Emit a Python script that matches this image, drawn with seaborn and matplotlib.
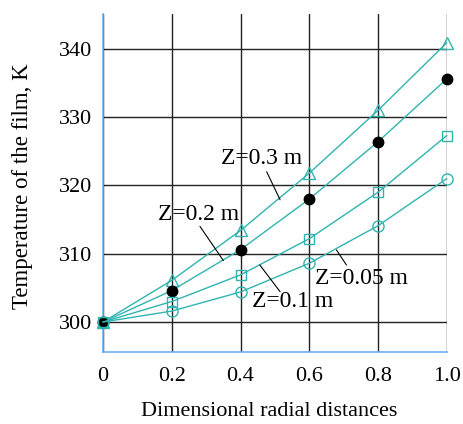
import matplotlib
matplotlib.use("Agg")
import matplotlib.pyplot as plt
import seaborn as sns
import pandas as pd

r = [0.0, 0.2, 0.4, 0.6, 0.8, 1.0]
t_z03 = [300.0, 306.1, 313.4, 321.8, 331.0, 340.9]
t_z02 = [300.0, 304.6, 310.6, 318.0, 326.4, 335.6]
t_z01 = [300.0, 303.0, 306.9, 312.2, 319.0, 327.3]
t_z005 = [300.0, 301.6, 304.4, 308.6, 314.1, 321.0]
x_ticks = [0, 0.2, 0.4, 0.6, 0.8, 1.0]
x_ticklabels = ["0", "0.2", "0.4", "0.6", "0.8", "1.0"]
y_ticks = [300, 310, 320, 330, 340]

sns.set_style("white")
plt.rcParams['font.family'] = ['Liberation Serif', 'DejaVu Serif']
plt.rcParams['text.color'] = 'black'
plt.rcParams['axes.labelcolor'] = 'black'
plt.rcParams['xtick.labelcolor'] = 'black'
plt.rcParams['ytick.labelcolor'] = 'black'

fig = plt.figure(figsize=(4.64, 4.24), dpi=100)
ax = fig.add_axes([0.222, 0.1705, 0.741, 0.7965])

teal = "#30b4b0"
blue = "#6aaef5"

series = [
    (t_z03, "^", "none", 9),
    (t_z02, "o", "black", 7.5),
    (t_z01, "s", "none", 7.5),
    (t_z005, "o", "none", 8),
]
for vals, mk, fc, ms in series:
    df = pd.DataFrame({"r": r, "T": vals})
    sns.lineplot(data=df, x="r", y="T", ax=ax, color=teal, linewidth=1.0,
                 marker=mk, markersize=ms, markerfacecolor=fc,
                 markeredgecolor=("black" if fc == "black" else teal),
                 markeredgewidth=1.0, zorder=3, clip_on=False)

ax.set_xlim(0, 1.0)
ax.set_ylim(295.65, 345.1)
ax.set_xticks(x_ticks)
ax.set_xticklabels(x_ticklabels)
ax.set_yticks(y_ticks)
ax.grid(True, color="#222222", linewidth=1.0, zorder=0)
ax.set_axisbelow(True)

for s in ["top", "right"]:
    ax.spines[s].set_visible(False)
for s in ["left", "bottom"]:
    ax.spines[s].set_color(blue)
    ax.spines[s].set_linewidth(1.2)

ax.tick_params(axis="y", direction="out", length=5, color=blue, width=1.2,
               labelsize=16, pad=3, labelcolor="black")
ax.tick_params(axis="x", length=0, labelsize=16, pad=11, labelcolor="black")

ax.set_xlabel("Dimensional radial distances", fontsize=16, va="center",
              color="black")
ax.xaxis.set_label_coords(0.483, -0.178)
ax.set_ylabel("Temperature of the film, K", fontsize=16.5, va="center",
              color="black")
ax.yaxis.set_label_coords(-0.2355, 0.491)

labels = [
    ("Z=0.3 m", (0.462, 324.0), (0.476, 322.0), (0.515, 317.9)),
    ("Z=0.2 m", (0.279, 315.7), (0.282, 314.0), (0.350, 309.0)),
    ("Z=0.1 m", (0.552, 303.0), (0.456, 308.35), (0.515, 304.44)),
    ("Z=0.05 m", (0.751, 306.4), (0.679, 310.55), (0.708, 308.35)),
]
for txt, tpos, l0, l1 in labels:
    ax.text(tpos[0], tpos[1], txt, fontsize=17, ha="center", va="center",
            color="black", zorder=5)
    ax.plot([l0[0], l1[0]], [l0[1], l1[1]], color="black", linewidth=0.8,
            zorder=4)

fig.savefig("out.png", dpi=100)
